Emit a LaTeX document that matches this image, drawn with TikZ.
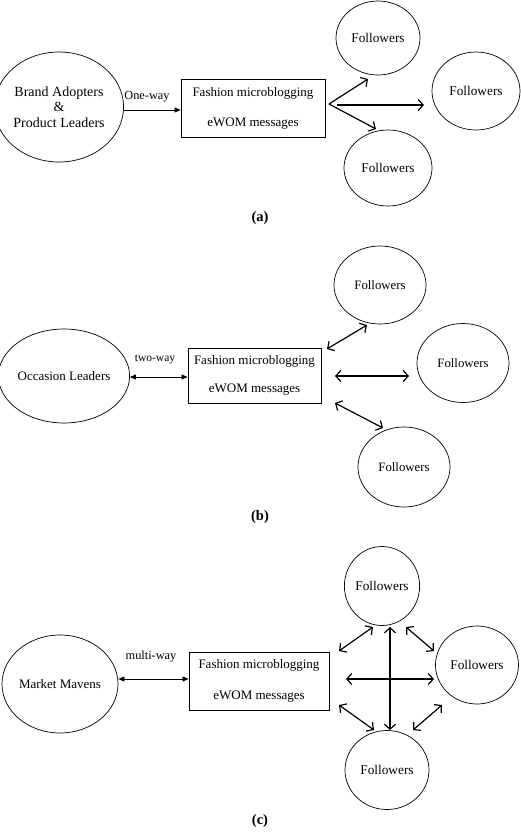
\documentclass[tikz,border=0pt]{standalone}
\usepackage{fontspec}
\setmainfont{Liberation Serif}
\usetikzlibrary{shapes.geometric,arrows.meta}
\tikzset{
  ell/.style={draw,ellipse,line width=0.7pt,inner sep=0pt,align=center},
  msgbox/.style={draw,rectangle,line width=0.8pt,inner sep=0pt,align=center,font=\fontsize{13}{15}\selectfont},
  small/.style={-{Triangle[length=6pt,width=5pt]},line width=0.7pt},
  smallboth/.style={{Triangle[length=6pt,width=5pt]}-{Triangle[length=6pt,width=5pt]},line width=0.7pt},
  bold/.style={-{Straight Barb[length=5pt,width=11pt]},line width=1.2pt},
  boldboth/.style={{Straight Barb[length=5pt,width=11pt]}-{Straight Barb[length=5pt,width=11pt]},line width=1.2pt},
  lbl/.style={font=\fontsize{12.3}{14}\selectfont,inner sep=0pt},
  captext/.style={font=\fontsize{14.5}{16}\selectfont\bfseries,inner sep=0pt},
  fol/.style={ell,font=\fontsize{13.3}{15}\selectfont}
}
\begin{document}
\begin{tikzpicture}[x=1pt,y=-1pt]
\useasboundingbox (0,0) rectangle (520,833);
% ---------- (a)
\node[ell,minimum width=116pt,minimum height=110pt,font=\fontsize{14}{15.5}\selectfont] (aL) at (59,107) {Brand Adopters\\\&\\Product Leaders};
\node[msgbox,minimum width=144pt,minimum height=58pt] (aB) at (253,108) {Fashion microblogging\\[15pt]eWOM messages};
\node[fol,minimum width=84pt,minimum height=74pt] (aF1) at (378,38) {Followers};
\node[fol,minimum width=88pt,minimum height=78pt] (aF2) at (476,91) {Followers};
\node[fol,minimum width=88pt,minimum height=76pt] (aF3) at (388,168) {Followers};
\node[lbl] (aT) at (147,97) {One-way};
\coordinate (aS) at (124,110);
\draw[small] (aS) -- (aB.west |- aS);
\coordinate (aO) at (329,104);
\coordinate (aO2) at (337,105);
\coordinate (aE1) at (368,79);
\coordinate (aE2) at (424,105);
\coordinate (aE3) at (376,129);
\draw[bold] (aO) -- (aE1);
\draw[bold] (aO2) -- (aE2);
\draw[bold] (aO) -- (aE3);
\node[captext] (capA) at (260,218) {(a)};
% ---------- (b)
\node[ell,minimum width=110pt,minimum height=94pt,font=\fontsize{13}{15}\selectfont] (bL) at (64,376) {Occasion Leaders};
\node[msgbox,minimum width=133pt,minimum height=55pt] (bB) at (254.5,375.5) {Fashion microblogging\\[13pt]eWOM messages};
\node[fol,minimum width=92pt,minimum height=78pt,font=\fontsize{12.8}{15}\selectfont] (bF1) at (380,285) {Followers};
\node[fol,minimum width=92pt,minimum height=79pt,font=\fontsize{12.8}{15}\selectfont] (bF2) at (463,363) {Followers};
\node[fol,minimum width=92pt,minimum height=80pt,font=\fontsize{12.8}{15}\selectfont] (bF3) at (404,467) {Followers};
\node[lbl,font=\fontsize{11.5}{14}\selectfont] (bT) at (155,359) {two-way};
\draw[smallboth] (bL.east |- 0,377) -- (bB.west |- 0,377);
\coordinate (b1s) at (327,349);
\coordinate (b1e) at (367,325);
\coordinate (b2s) at (335,376);
\coordinate (b2e) at (409,376);
\coordinate (b3s) at (335,403);
\coordinate (b3e) at (383,428);
\draw[boldboth] (b1s) -- (b1e);
\draw[boldboth] (b2s) -- (b2e);
\draw[boldboth] (b3s) -- (b3e);
\node[captext] (capB) at (260,517) {(b)};
% ---------- (c)
\node[ell,minimum width=116pt,minimum height=98pt,font=\fontsize{13}{15}\selectfont] (cL) at (60,684) {Market Mavens};
\node[msgbox,minimum width=140pt,minimum height=58pt] (cB) at (259,681) {Fashion microblogging\\[16pt]eWOM messages};
\node[fol,minimum width=74pt,minimum height=79pt] (cF1) at (382,586) {Followers};
\node[fol,minimum width=83pt,minimum height=78pt] (cF2) at (477,665) {Followers};
\node[fol,minimum width=84pt,minimum height=79pt] (cF3) at (387,770) {Followers};
\node[lbl] (cT) at (151,657) {multi-way};
\draw[smallboth] (cL.east |- 0,679) -- (cB.west |- 0,679);
\coordinate (c1s) at (339,651);
\coordinate (c1e) at (373,627);
\coordinate (c2s) at (390,627);
\coordinate (c2e) at (390,730);
\coordinate (c3s) at (406,627);
\coordinate (c3e) at (434,651);
\coordinate (c4s) at (346,679);
\coordinate (c4e) at (434,679);
\coordinate (c5s) at (339,705);
\coordinate (c5e) at (374,730);
\coordinate (c6s) at (442,705);
\coordinate (c6e) at (413,730);
\draw[boldboth] (c1s) -- (c1e);
\draw[boldboth] (c2s) -- (c2e);
\draw[boldboth] (c3s) -- (c3e);
\draw[boldboth] (c4s) -- (c4e);
\draw[boldboth] (c5s) -- (c5e);
\draw[boldboth] (c6s) -- (c6e);
\node[captext] (capC) at (260,821) {(c)};
\end{tikzpicture}
\end{document}
